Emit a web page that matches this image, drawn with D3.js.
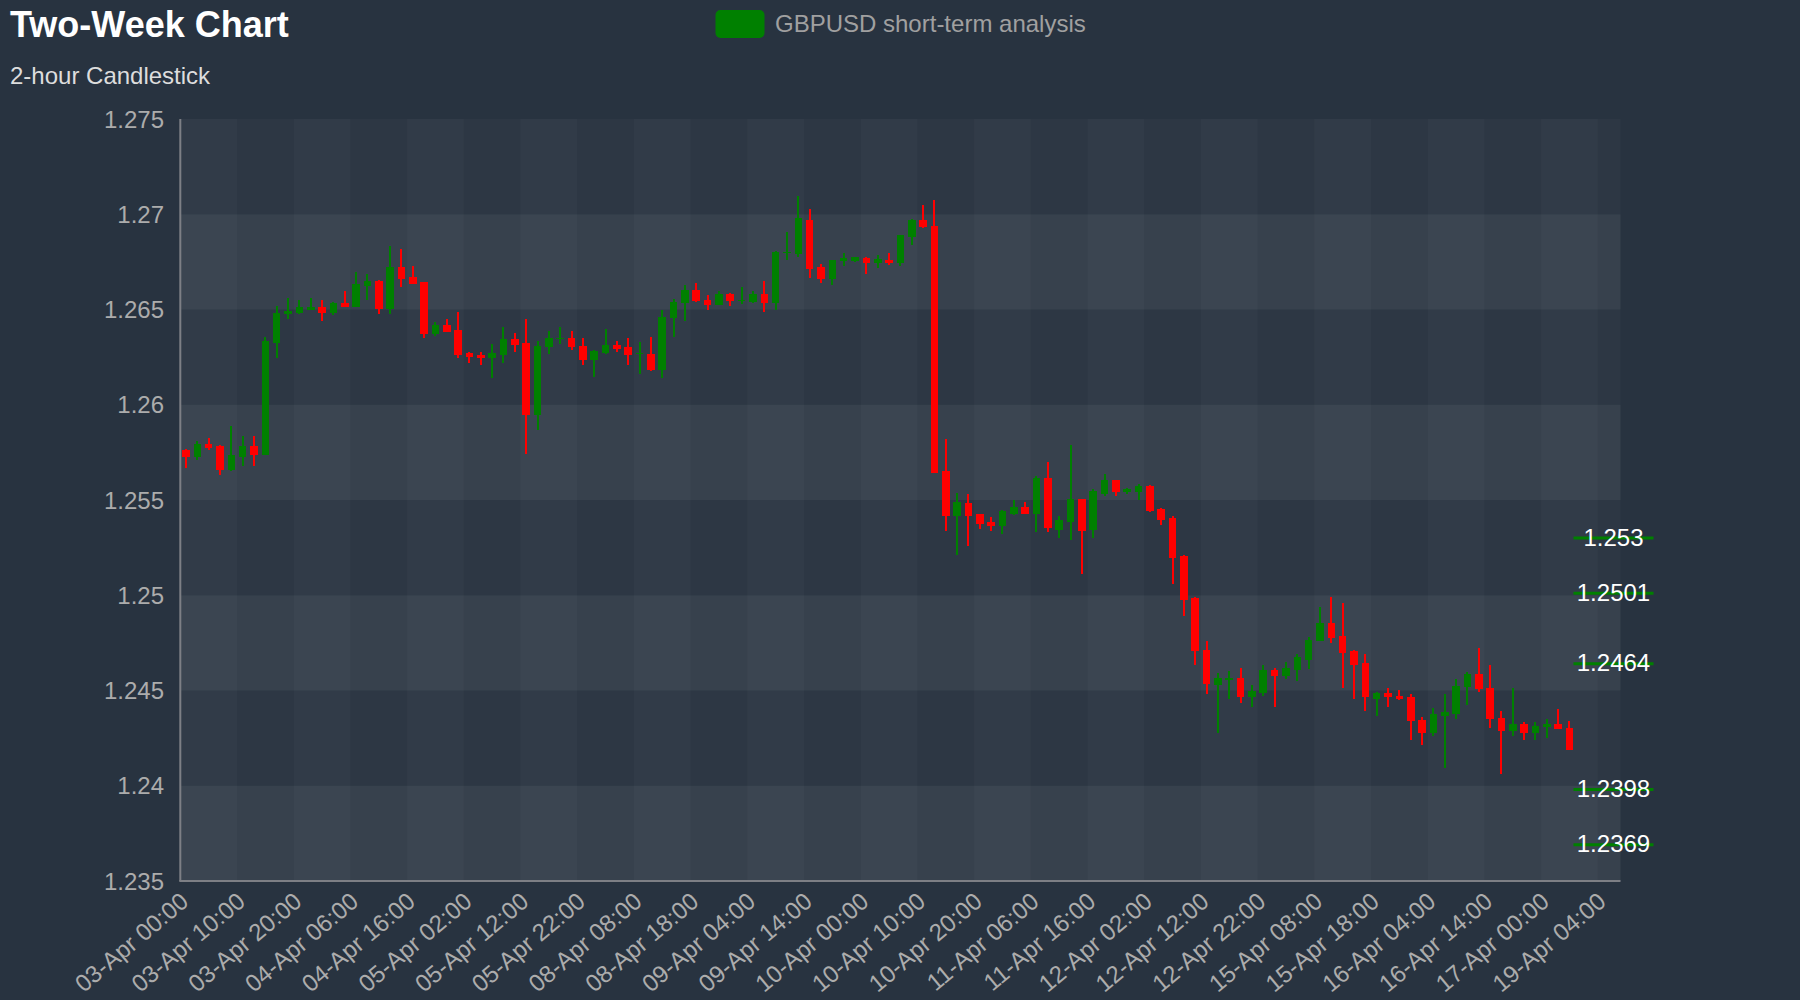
<!DOCTYPE html>
<html><head><meta charset="utf-8">
<script src="https://cdn.jsdelivr.net/npm/d3@7"></script>
<style>
html,body{margin:0;padding:0;background:#283340;}
svg{display:block;font-family:"Liberation Sans",Arial,sans-serif;}
</style>
</head><body>
<svg id="chart" width="1800" height="1000"></svg>
<script>
const categories = [
"03-Apr 00:00","03-Apr 02:00","03-Apr 04:00","03-Apr 06:00","03-Apr 08:00","03-Apr 10:00","03-Apr 12:00","03-Apr 14:00","03-Apr 16:00","03-Apr 18:00","03-Apr 20:00","03-Apr 22:00",
"04-Apr 00:00","04-Apr 02:00","04-Apr 04:00","04-Apr 06:00","04-Apr 08:00","04-Apr 10:00","04-Apr 12:00","04-Apr 14:00","04-Apr 16:00","04-Apr 18:00","04-Apr 20:00","04-Apr 22:00",
"05-Apr 00:00","05-Apr 02:00","05-Apr 04:00","05-Apr 06:00","05-Apr 08:00","05-Apr 10:00","05-Apr 12:00","05-Apr 14:00","05-Apr 16:00","05-Apr 18:00","05-Apr 20:00","05-Apr 22:00",
"08-Apr 00:00","08-Apr 02:00","08-Apr 04:00","08-Apr 06:00","08-Apr 08:00","08-Apr 10:00","08-Apr 12:00","08-Apr 14:00","08-Apr 16:00","08-Apr 18:00","08-Apr 20:00","08-Apr 22:00",
"09-Apr 00:00","09-Apr 02:00","09-Apr 04:00","09-Apr 06:00","09-Apr 08:00","09-Apr 10:00","09-Apr 12:00","09-Apr 14:00","09-Apr 16:00","09-Apr 18:00","09-Apr 20:00","09-Apr 22:00",
"10-Apr 00:00","10-Apr 02:00","10-Apr 04:00","10-Apr 06:00","10-Apr 08:00","10-Apr 10:00","10-Apr 12:00","10-Apr 14:00","10-Apr 16:00","10-Apr 18:00","10-Apr 20:00","10-Apr 22:00",
"11-Apr 00:00","11-Apr 02:00","11-Apr 04:00","11-Apr 06:00","11-Apr 08:00","11-Apr 10:00","11-Apr 12:00","11-Apr 14:00","11-Apr 16:00","11-Apr 18:00","11-Apr 20:00","11-Apr 22:00",
"12-Apr 00:00","12-Apr 02:00","12-Apr 04:00","12-Apr 06:00","12-Apr 08:00","12-Apr 10:00","12-Apr 12:00","12-Apr 14:00","12-Apr 16:00","12-Apr 18:00","12-Apr 20:00","12-Apr 22:00",
"15-Apr 00:00","15-Apr 02:00","15-Apr 04:00","15-Apr 06:00","15-Apr 08:00","15-Apr 10:00","15-Apr 12:00","15-Apr 14:00","15-Apr 16:00","15-Apr 18:00","15-Apr 20:00","15-Apr 22:00",
"16-Apr 00:00","16-Apr 02:00","16-Apr 04:00","16-Apr 06:00","16-Apr 08:00","16-Apr 10:00","16-Apr 12:00","16-Apr 14:00","16-Apr 16:00","16-Apr 18:00","16-Apr 20:00","16-Apr 22:00",
"17-Apr 00:00","17-Apr 02:00","17-Apr 04:00",
"19-Apr 00:00","19-Apr 02:00","19-Apr 04:00","19-Apr 06:00"
];

const opens = [
1.25765,1.25726,1.25793,1.25784,1.25656,1.25726,1.25782,1.25735,1.26325,1.26474,1.26483,1.26500,
1.26511,1.26483,1.26532,1.26513,1.26625,1.26651,1.26504,1.26721,1.26672,1.26642,1.26372,1.26421,
1.26392,1.26273,1.26262,1.26245,1.26262,1.26343,1.26322,1.25945,1.26304,1.26344,1.26353,1.26311,
1.26234,1.26273,1.26313,1.26301,1.26266,1.26264,1.26182,1.26453,1.26532,1.26602,1.26551,1.26523,
1.26581,1.26544,1.26541,1.26581,1.26534,1.26794,1.26793,1.26969,1.26721,1.26661,1.26754,1.26752,
1.26772,1.26744,1.26761,1.26744,1.26882,1.26969,1.26940,1.25653,1.25416,1.25483,1.25425,1.25385,
1.25364,1.25425,1.25464,1.25427,1.25616,1.25345,1.25385,1.25504,1.25345,1.25534,1.25604,1.25541,
1.25544,1.25574,1.25455,1.25404,1.25205,1.24986,1.24714,1.24527,1.24557,1.24567,1.24466,1.24487,
1.24606,1.24576,1.24608,1.24658,1.24758,1.24854,1.24784,1.24706,1.24646,1.24457,1.24487,1.24469,
1.24466,1.24347,1.24278,1.24366,1.24378,1.24518,1.24586,1.24515,1.24355,1.24285,1.24326,1.24277,
1.24306,1.24326,1.24305
];
const highs = [
1.25767,1.25809,1.25828,1.25788,1.25888,1.25837,1.25837,1.26357,1.26518,1.26558,1.26549,1.26558,
1.26549,1.26537,1.26597,1.26698,1.26686,1.26654,1.26835,1.26815,1.26728,1.26646,1.26435,1.26448,
1.26488,1.26278,1.26278,1.26318,1.26407,1.26378,1.26448,1.26337,1.26386,1.26407,1.26386,1.26348,
1.26287,1.26397,1.26337,1.26348,1.26327,1.26358,1.26497,1.26556,1.26626,1.26637,1.26575,1.26595,
1.26584,1.26616,1.26595,1.26647,1.26807,1.26905,1.27096,1.27026,1.26737,1.26761,1.26796,1.26777,
1.26775,1.26786,1.26796,1.26891,1.26975,1.27047,1.27076,1.25819,1.25539,1.25530,1.25429,1.25409,
1.25448,1.25499,1.25488,1.25628,1.25698,1.25418,1.25788,1.25504,1.25558,1.25639,1.25604,1.25565,
1.25586,1.25577,1.25458,1.25418,1.25210,1.24991,1.24762,1.24590,1.24601,1.24620,1.24531,1.24632,
1.24620,1.24651,1.24690,1.24779,1.24940,1.24989,1.24961,1.24711,1.24690,1.24490,1.24511,1.24501,
1.24480,1.24361,1.24410,1.24480,1.24560,1.24599,1.24721,1.24632,1.24390,1.24511,1.24333,1.24333,
1.24352,1.24401,1.24341
];
const lows = [
1.25670,1.25709,1.25761,1.25630,1.25653,1.25681,1.25681,1.25735,1.26248,1.26448,1.26479,1.26500,
1.26439,1.26469,1.26511,1.26511,1.26549,1.26478,1.26478,1.26618,1.26632,1.26348,1.26360,1.26383,
1.26248,1.26220,1.26208,1.26140,1.26220,1.26278,1.25740,1.25870,1.26267,1.26318,1.26290,1.26208,
1.26147,1.26269,1.26278,1.26208,1.26159,1.26178,1.26138,1.26358,1.26439,1.26537,1.26499,1.26523,
1.26518,1.26530,1.26535,1.26488,1.26499,1.26759,1.26777,1.26667,1.26637,1.26628,1.26728,1.26749,
1.26688,1.26717,1.26735,1.26728,1.26836,1.26927,1.25641,1.25339,1.25212,1.25261,1.25350,1.25339,
1.25320,1.25420,1.25425,1.25331,1.25331,1.25301,1.25290,1.25110,1.25299,1.25520,1.25520,1.25530,
1.25499,1.25437,1.25367,1.25061,1.24891,1.24632,1.24483,1.24275,1.24453,1.24432,1.24413,1.24471,
1.24413,1.24560,1.24551,1.24611,1.24758,1.24751,1.24513,1.24453,1.24390,1.24364,1.24413,1.24452,
1.24242,1.24212,1.24263,1.24094,1.24352,1.24422,1.24492,1.24303,1.24063,1.24263,1.24242,1.24242,
1.24250,1.24296,1.24187
];
const closes = [
1.25726,1.25793,1.25775,1.25656,1.25735,1.25782,1.25735,1.26334,1.26481,1.26492,1.26512,1.26511,
1.26483,1.26534,1.26511,1.26633,1.26651,1.26502,1.26721,1.26661,1.26632,1.26374,1.26421,1.26383,
1.26262,1.26253,1.26243,1.26271,1.26343,1.26315,1.25945,1.26311,1.26353,1.26351,1.26304,1.26234,
1.26281,1.26313,1.26292,1.26262,1.26273,1.26182,1.26462,1.26541,1.26602,1.26542,1.26525,1.26579,
1.26542,1.26551,1.26581,1.26534,1.26801,1.26803,1.26982,1.26710,1.26661,1.26761,1.26770,1.26773,
1.26744,1.26763,1.26744,1.26891,1.26971,1.26931,1.25644,1.25416,1.25492,1.25416,1.25376,1.25364,
1.25444,1.25464,1.25425,1.25616,1.25355,1.25394,1.25504,1.25336,1.25546,1.25604,1.25544,1.25557,
1.25574,1.25443,1.25395,1.25196,1.24977,1.24708,1.24536,1.24567,1.24567,1.24466,1.24496,1.24606,
1.24576,1.24616,1.24676,1.24763,1.24854,1.24777,1.24697,1.24635,1.24466,1.24487,1.24466,1.24457,
1.24338,1.24277,1.24375,1.24387,1.24525,1.24586,1.24506,1.24348,1.24285,1.24326,1.24277,1.24315,
1.24326,1.24296,1.24187
];

const markValues = [1.253, 1.2501, 1.2464, 1.2398, 1.2369];
const yTicks = [1.235, 1.24, 1.245, 1.25, 1.255, 1.26, 1.265, 1.27, 1.275];
const yTickLabels = ["1.235","1.24","1.245","1.25","1.255","1.26","1.265","1.27","1.275"];
const xLabelEvery = 5;

const titleText = "Two-Week Chart";
const subtitleText = "2-hour Candlestick";
const legendText = "GBPUSD short-term analysis";

(function draw() {
const UP = "#008000", DOWN = "#ff0000";
const svg = d3.select("#chart");
const pL = 180.3, pR = 1620.5, pT = 119, pB = 881;

const x = d3.scaleBand().domain(categories).range([pL, pR]).paddingInner(0).paddingOuter(0);
const y = d3.scaleLinear().domain([yTicks[0], yTicks[yTicks.length-1]]).range([pB, pT]);
const bw = x.bandwidth();

svg.append("rect").attr("width",1800).attr("height",1000).attr("fill","#283340");

const gSplit = svg.append("g");
for (let j = 0; j < yTicks.length - 1; j++) {
  gSplit.append("rect")
    .attr("x", pL).attr("width", pR-pL)
    .attr("y", y(yTicks[j+1])).attr("height", y(yTicks[j]) - y(yTicks[j+1]))
    .attr("fill", j % 2 === 0 ? "rgba(255,255,255,0.07)" : "rgba(255,255,255,0.025)");
}
for (let k = 0; k * xLabelEvery < categories.length; k++) {
  const i0 = k * xLabelEvery;
  const x0 = x(categories[i0]);
  const i1 = i0 + xLabelEvery;
  const x1 = i1 < categories.length ? x(categories[i1]) : pR;
  if (k % 2 === 0) {
    gSplit.append("rect").attr("x", x0).attr("width", x1 - x0)
      .attr("y", pT).attr("height", pB - pT)
      .attr("fill", "rgba(255,255,255,0.025)");
  }
}

svg.append("line").attr("x1", pL).attr("x2", pL).attr("y1", pT).attr("y2", pB)
  .attr("stroke", "#7d7f85").attr("stroke-width", 2);
svg.append("line").attr("x1", pL-1).attr("x2", pR).attr("y1", pB).attr("y2", pB)
  .attr("stroke", "#7d7f85").attr("stroke-width", 2);

svg.append("g").selectAll("text").data(yTicks).join("text")
  .attr("x", 164).attr("y", d => y(d))
  .attr("text-anchor", "end").attr("dominant-baseline", "central")
  .attr("font-size", 24).attr("fill", "#acacac")
  .text((d, i) => yTickLabels[i]);

const xl = categories.filter((c, i) => i % xLabelEvery === 0);
svg.append("g").selectAll("text").data(xl).join("text")
  .attr("transform", d => `translate(${x(d) + bw/2 - 1.5},${pB + 16.5}) rotate(-40)`)
  .attr("text-anchor", "end").attr("dominant-baseline", "central")
  .attr("font-size", 24).attr("fill", "#acacac")
  .text(d => d);

const candles = opens.map((o, i) => ({cat: categories[i], o, h: highs[i], l: lows[i], c: closes[i]}));
const gC = svg.append("g").attr("shape-rendering", "crispEdges");
const bodyW = 7.6;
gC.selectAll("line").data(candles).join("line")
  .attr("x1", d => x(d.cat) + bw/2).attr("x2", d => x(d.cat) + bw/2)
  .attr("y1", d => y(d.h)).attr("y2", d => y(d.l))
  .attr("stroke", d => d.c >= d.o ? UP : DOWN).attr("stroke-width", 2);
gC.selectAll("rect").data(candles).join("rect")
  .attr("x", d => x(d.cat) + bw/2 - bodyW/2).attr("width", bodyW)
  .attr("y", d => y(Math.max(d.o, d.c)))
  .attr("height", d => Math.max(1.5, Math.abs(y(d.o) - y(d.c))))
  .attr("fill", d => d.c >= d.o ? UP : DOWN);

const lastCat = categories[opens.length - 1];
const mx0 = x(lastCat) + bw/2 + 4, mx1 = mx0 + 80;
const gM = svg.append("g");
gM.selectAll("line").data(markValues).join("line")
  .attr("x1", mx0).attr("x2", mx1).attr("y1", d => y(d)).attr("y2", d => y(d))
  .attr("stroke", UP).attr("stroke-width", 3);
gM.selectAll("text").data(markValues).join("text")
  .attr("x", (mx0 + mx1)/2).attr("y", d => y(d) - 1)
  .attr("text-anchor", "middle").attr("dominant-baseline", "central")
  .attr("font-size", 24).attr("fill", "#ffffff")
  .text(d => String(d));

svg.append("text").attr("x", 10).attr("y", 37).attr("font-size", 36).attr("font-weight", "bold")
  .attr("fill", "#ffffff").text(titleText);
svg.append("text").attr("x", 10).attr("y", 84).attr("font-size", 24)
  .attr("fill", "#dddddd").text(subtitleText);

svg.append("rect").attr("x", 715.5).attr("y", 10).attr("width", 49).attr("height", 28)
  .attr("rx", 5).attr("fill", UP);
svg.append("text").attr("x", 775).attr("y", 31.7).attr("font-size", 24)
  .attr("fill", "#a0a0a0").text(legendText);
})();
</script>
</body></html>
